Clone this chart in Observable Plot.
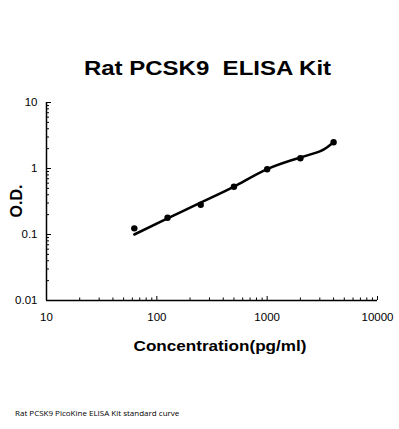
<!DOCTYPE html>
<html>
<head>
<meta charset="utf-8">
<script src="https://cdn.jsdelivr.net/npm/d3@7"></script>
<script src="https://cdn.jsdelivr.net/npm/@observablehq/plot@0.6"></script>
<style>
  html, body { margin: 0; padding: 0; background: #fff; }
  #wrap { position: relative; width: 399px; height: 429px; overflow: hidden; font-family: "Liberation Sans", Arial, sans-serif; }
  #chart { position: absolute; left: 0; top: 0; }
  .lbl { position: absolute; white-space: nowrap; color: #000; }
  #title { left: 0; width: 415px; top: 57px; text-align: center; font-weight: bold; font-size: 20px; line-height: normal; transform: scaleX(1.2); transform-origin: 207.5px 0; }
  #xlabel { left: 0; width: 440px; top: 338px; text-align: center; font-weight: bold; font-size: 15px; line-height: 1; transform: scaleX(1.14); transform-origin: 220px 0; }
  #ylabel { left: 17px; top: 201px; font-weight: bold; font-size: 16px; transform: translate(-50%, -50%) rotate(-90deg); }
  #caption { left: 15px; top: 407px; font-family: "Open Sans", sans-serif; font-size: 8px; }
</style>
</head>
<body>
<div id="wrap">
  <div id="chart"></div>
  <div class="lbl" id="title">Rat PCSK9&nbsp;&nbsp;ELISA Kit</div>
  <div class="lbl" id="ylabel">O.D.</div>
  <div class="lbl" id="xlabel">Concentration(pg/ml)</div>
  <div class="lbl" id="caption">Rat PCSK9 PicoKine ELISA Kit standard curve</div>
</div>
<script>
// Standard points
const concentrations = [62.5, 125, 250, 500, 1000, 2000, 4000];
const odValues = [0.124, 0.179, 0.282, 0.528, 0.976, 1.43, 2.5];
// Fitted curve
const curveConc = [62.5, 125, 250, 500, 1000, 2000, 3000, 3500, 4000];
const curveOD = [0.1, 0.175, 0.305, 0.53, 0.98, 1.47, 1.82, 2.1, 2.5];
// Axis ticks
const xMajor = [10, 100, 1000, 10000];
const yMajor = [0.01, 0.1, 1, 10];
const xMinor = [20,30,40,50,60,70,80,90,200,300,400,500,600,700,800,900,2000,3000,4000,5000,6000,7000,8000,9000];
const yMinor = [0.02,0.03,0.04,0.05,0.06,0.07,0.08,0.09,0.2,0.3,0.4,0.5,0.6,0.7,0.8,0.9,2,3,4,5,6,7,8,9];

const W = 399, H = 429, mL = 46, mR = 22, mT = 102, mB = 129;
const iW = W - mL - mR, iH = H - mT - mB;

const points = concentrations.map((c, i) => ({c, od: odValues[i]}));
const curve = curveConc.map((c, i) => ({c, od: curveOD[i]}));

const plot = Plot.plot({
  width: W, height: H,
  marginLeft: mL, marginRight: mR, marginTop: mT, marginBottom: mB,
  x: {type: "log", domain: [10, 10000], axis: null},
  y: {type: "log", domain: [0.01, 10], axis: null},
  style: {fontFamily: "'Liberation Sans', Arial, sans-serif", background: "#fff"},
  marks: [
    Plot.ruleY(yMinor, {y: d => d, insetRight: iW - 3, stroke: "#000", strokeWidth: 1}),
    Plot.ruleY(yMajor, {y: d => d, insetRight: iW - 5, stroke: "#000", strokeWidth: 1}),
    Plot.ruleX(xMinor, {x: d => d, insetTop: iH - 2.5, stroke: "#000", strokeWidth: 1}),
    Plot.ruleX(xMajor, {x: d => d, insetTop: iH - 4, stroke: "#000", strokeWidth: 1}),
    Plot.ruleX([10], {stroke: "#000", strokeWidth: 1.5}),
    Plot.ruleY([0.01], {stroke: "#000", strokeWidth: 1.5}),
    Plot.text(yMajor, {y: d => d, text: d => String(d), frameAnchor: "left", textAnchor: "end", dx: -9, fontSize: 11.5, fill: "#000"}),
    Plot.text(xMajor, {x: d => d, text: d => String(d), frameAnchor: "bottom", lineAnchor: "middle", dy: 17, fontSize: 11.5, fill: "#000"}),
    Plot.line(curve, {x: "c", y: "od", curve: "natural", stroke: "#000", strokeWidth: 2.5}),
    Plot.dot(points, {x: "c", y: "od", r: 3.2, fill: "#000", stroke: "none"})
  ]
});
document.getElementById("chart").appendChild(plot);
</script>
</body>
</html>
